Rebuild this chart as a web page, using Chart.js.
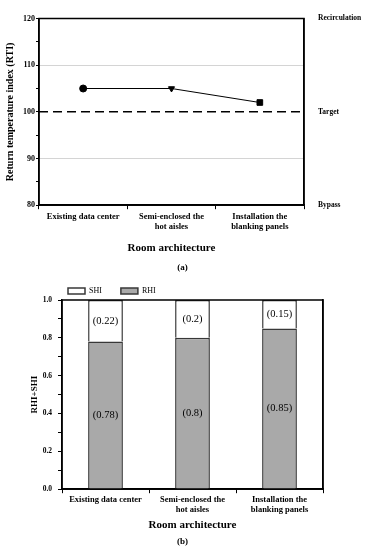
<!DOCTYPE html>
<html>
<head>
<meta charset="utf-8">
<script src="https://cdn.jsdelivr.net/npm/chart.js@4.4.0/dist/chart.umd.min.js"></script>
<style>
  html, body { margin: 0; padding: 0; background: #ffffff; }
  body { width: 365px; height: 550px; position: relative; overflow: hidden; }
  .box { position: absolute; left: 0; width: 365px; }
</style>
</head>
<body>
<div class="box" style="top:0;height:280px;"><canvas id="rtiChart"></canvas></div>
<div class="box" style="top:263px;height:287px;"><canvas id="rhiChart"></canvas></div>
<script>
// categories shared by both panels
const rooms = [['Existing data center'], ['Semi-enclosed the', 'hot aisles'], ['Installation the', 'blanking panels']];

// (a) return temperature index
const rtiValues = [105, 105, 102];
const rtiTarget = 100;
const zoneTicks = [80, 100, 120];
const zoneNames = ['Bypass', 'Target', 'Recirculation'];

// (b) RHI / SHI
const rhiValues = [0.78, 0.8, 0.85];
const shiValues = [0.22, 0.2, 0.15];

const serif = 'Liberation Serif';
Chart.defaults.font.family = serif;
Chart.defaults.color = '#000000';

// box around the plot area
const frame = {
    id: 'frame',
    afterDraw(chart) {
        const a = chart.chartArea, c = chart.ctx;
        c.save();
        c.strokeStyle = '#000';
        c.lineWidth = 1.5;
        c.strokeRect(a.left, a.top, a.right - a.left, a.bottom - a.top);
        c.restore();
    }
};

// dashed target line at RTI = 100
const targetLine = {
    id: 'targetLine',
    beforeDatasetsDraw(chart) {
        const y = chart.scales.y.getPixelForValue(rtiTarget);
        const a = chart.chartArea, c = chart.ctx;
        c.save();
        c.strokeStyle = '#000';
        c.lineWidth = 1.5;
        c.setLineDash([9, 5]);
        c.beginPath();
        c.moveTo(a.left, y);
        c.lineTo(a.right, y);
        c.stroke();
        c.restore();
    }
};

// value labels in the middle of each bar segment
const segLabels = {
    id: 'segLabels',
    afterDatasetsDraw(chart) {
        const c = chart.ctx;
        c.save();
        c.font = '10.5px ' + serif;
        c.fillStyle = '#000';
        c.textAlign = 'center';
        c.textBaseline = 'middle';
        chart.data.datasets.forEach((ds, i) => {
            chart.getDatasetMeta(i).data.forEach((bar, j) => {
                c.fillText('(' + ds.data[j] + ')', bar.x, (bar.y + bar.base) / 2);
            });
        });
        c.restore();
    }
};

// move the legend to sit over the plot like the original
const legendNudge = {
    id: 'legendNudge',
    afterLayout(chart) {
        chart.legend.left += 49;
        chart.legend.top += 5;
    }
};

new Chart(document.getElementById('rtiChart'), {
    type: 'line',
    data: {
        labels: rooms,
        datasets: [{
            data: rtiValues,
            borderColor: '#000',
            borderWidth: 1,
            backgroundColor: '#000',
            pointStyle: ['circle', 'triangle', 'rect'],
            pointRotation: [0, 180, 0],
            pointRadius: [3.5, 3.5, 4],
            tension: 0
        }]
    },
    options: {
        responsive: true,
        maintainAspectRatio: false,
        animation: false,
        layout: { padding: { top: 12 } },
        scales: {
            x: {
                offset: true,
                grid: { offset: true, drawOnChartArea: false, tickLength: 4, tickColor: '#000' },
                border: { color: '#000', width: 1.5 },
                ticks: { padding: 2, maxRotation: 0, autoSkip: false, font: { size: 8.5, weight: 'bold' } },
                title: { display: true, text: 'Room architecture', font: { size: 11, weight: 'bold' }, padding: { top: 0, bottom: 3 } },
                afterFit(s) { s.height = 53; }
            },
            y: {
                min: 80,
                max: 120,
                ticks: {
                    stepSize: 5,
                    padding: 1,
                    font: { size: 8, weight: 'bold' },
                    callback: v => (v % 10 === 0 ? v : '')
                },
                grid: {
                    color: c => (c.tick && (c.tick.value === 90 || c.tick.value === 110) ? '#d4d4d4' : 'rgba(0,0,0,0)'),
                    tickColor: '#000',
                    tickLength: 3
                },
                border: { color: '#000', width: 1.5 },
                title: { display: true, text: 'Return temperature index (RTI)', font: { size: 10, weight: 'bold' }, padding: { top: 4, bottom: 0 } },
                afterFit(s) { s.width = 39; }
            },
            y2: {
                position: 'right',
                min: 80,
                max: 120,
                afterBuildTicks(s) { s.ticks = zoneTicks.map(v => ({ value: v })); },
                ticks: {
                    padding: 14,
                    font: { size: 7.5, weight: 'bold' },
                    callback: v => zoneNames[zoneTicks.indexOf(v)]
                },
                grid: { display: false, drawTicks: false },
                border: { color: '#000', width: 1.5 },
                afterFit(s) { s.width = 61; }
            }
        },
        plugins: {
            legend: { display: false },
            tooltip: { enabled: false },
            subtitle: {
                display: true,
                text: '(a)',
                position: 'bottom',
                color: '#000',
                font: { size: 9, weight: 'bold' },
                padding: { top: 4, bottom: 7 }
            }
        }
    },
    plugins: [targetLine, frame]
});

new Chart(document.getElementById('rhiChart'), {
    type: 'bar',
    data: {
        labels: rooms,
        datasets: [{
            label: 'RHI',
            data: rhiValues,
            backgroundColor: '#a9a9a9',
            borderColor: '#383838',
            borderWidth: 1.5,
            categoryPercentage: 0.8,
            barPercentage: 0.5
        }, {
            label: 'SHI',
            data: shiValues,
            backgroundColor: '#ffffff',
            borderColor: '#383838',
            borderWidth: 1.5,
            categoryPercentage: 0.8,
            barPercentage: 0.5
        }]
    },
    options: {
        responsive: true,
        maintainAspectRatio: false,
        animation: false,
        scales: {
            x: {
                stacked: true,
                grid: { offset: true, drawOnChartArea: false, tickLength: 4, tickColor: '#000' },
                border: { color: '#000', width: 1.5 },
                ticks: { padding: 1, maxRotation: 0, autoSkip: false, font: { size: 8.5, weight: 'bold' } },
                title: { display: true, text: 'Room architecture', font: { size: 11, weight: 'bold' }, padding: { top: 0, bottom: 0.5 } },
                afterFit(s) { s.height = 43; }
            },
            y: {
                stacked: true,
                min: 0,
                max: 1,
                ticks: {
                    stepSize: 0.1,
                    padding: 6,
                    font: { size: 7.5, weight: 'bold' },
                    callback: v => (Math.round(v * 10) % 2 === 0 ? v.toFixed(1) : '')
                },
                grid: { drawOnChartArea: false, tickColor: '#000', tickLength: 4 },
                border: { color: '#000', width: 1.5 },
                title: { display: true, text: 'RHI+SHI', font: { size: 9, weight: 'bold' }, padding: { top: 29.6, bottom: 0 } },
                afterFit(s) { s.width = 62; }
            },
            y2: {
                position: 'right',
                min: 0,
                max: 1,
                ticks: { display: false },
                grid: { display: false, drawTicks: false },
                border: { color: '#000', width: 1.5 },
                afterFit(s) { s.width = 42; }
            }
        },
        plugins: {
            legend: {
                position: 'top',
                align: 'start',
                reverse: true,
                labels: {
                    boxWidth: 17,
                    boxHeight: 6,
                    padding: 19,
                    color: '#000',
                    font: { size: 8 }
                }
            },
            tooltip: { enabled: false },
            subtitle: {
                display: true,
                text: '(b)',
                position: 'bottom',
                color: '#000',
                font: { size: 9, weight: 'bold' },
                padding: { top: 4, bottom: 3 }
            }
        }
    },
    plugins: [segLabels, legendNudge, frame]
});
</script>
</body>
</html>
